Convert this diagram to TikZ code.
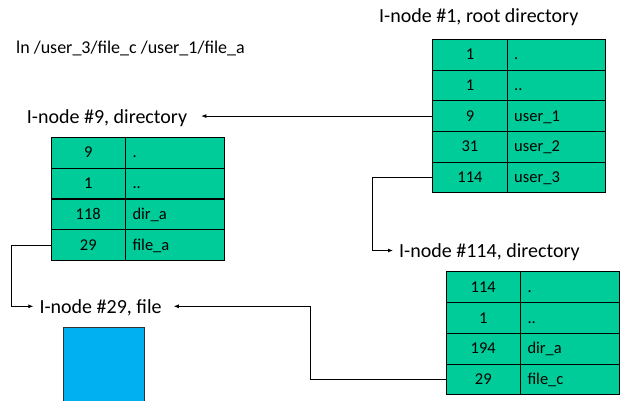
\documentclass[tikz,border=0pt]{standalone}
\usepackage{fontspec}
\setmainfont{Carlito}
\usetikzlibrary{arrows.meta}
\definecolor{entrygreen}{HTML}{00CC99}
\definecolor{fileblue}{HTML}{00B0F0}
\begin{document}
\begin{tikzpicture}[x=1pt,y=-1pt,
  cellbase/.style={draw=black, line width=0.9pt, fill=entrygreen,
    minimum height=30.75pt, inner ysep=0pt, text height=12pt, text depth=1.5pt,
    font=\fontsize{16.5}{18}\selectfont, outer sep=0pt},
  numcell/.style={cellbase, minimum width=74.5pt, inner xsep=0pt, align=center},
  namecell/.style={cellbase, text width=84.5pt, inner xsep=7pt, align=left},
  title/.style={font=\fontsize{20}{22}\selectfont, inner xsep=6pt, inner ysep=0pt,
    text height=14pt, text depth=0pt, anchor=base west},
  link/.style={draw=black, line width=0.8pt},
  arr/.style={link, -{Latex[length=5pt,width=4pt]}}
]
\useasboundingbox (0,0) rectangle (621,401);
\clip (0,0) rectangle (621,401);

% command line
\node[title, font=\fontsize{18}{20}\selectfont] (cmd) at (10,54) {ln /user\_3/file\_c /user\_1/file\_a};

% root directory (i-node 1)
\node[title] (t1) at (373,23) {I-node \#1, root directory};
\foreach \n/\name [count=\i] in {1/., 1/.., 9/user\_1, 31/user\_2, 114/user\_3} {
  \node[numcell] (r\i n) at (469.95, {54.65+30.7*(\i-1)}) {\n};
  \node[namecell, anchor=west] (r\i m) at (r\i n.east) {\name};
}

% directory user_1 (i-node 9)
\node[title] (t9) at (20.7,124) {I-node \#9, directory};
\foreach \n/\name [count=\i] in {9/., 1/.., 118/dir\_a, 29/file\_a} {
  \node[numcell] (c\i n) at (88.25, {152.7+30.85*(\i-1)}) {\n};
  \node[namecell, anchor=west] (c\i m) at (c\i n.east) {\name};
}

% directory user_3 (i-node 114)
\node[title] (t114) at (393,257.5) {I-node \#114, directory};
\foreach \n/\name [count=\i] in {114/., 1/.., 194/dir\_a, 29/file\_c} {
  \node[numcell] (d\i n) at (483.25, {287.1+30.8*(\i-1)}) {\n};
  \node[namecell, anchor=west] (d\i m) at (d\i n.east) {\name};
}

% file (i-node 29)
\node[title] (t29) at (33.3,313.3) {I-node \#29, file};
\node[draw=black!80, line width=0.8pt, fill=fileblue, minimum width=80.4pt,
  minimum height=82pt, anchor=north west, inner sep=0pt] (blk) at (63.3,327.3) {};

% links
\draw[arr] (r3n.west) -- ([xshift=8pt]t9.east |- r3n.west);
\draw[arr] (r5n.west) -- ++(-60.5,0) |- (t114.west);
\draw[arr] (c4n.west) -- ++(-39.3,0) |- (t29.west);
\draw[arr] (d4n.west) -- ++(-136,0) |- ([xshift=6pt]t29.east);
\end{tikzpicture}
\end{document}
